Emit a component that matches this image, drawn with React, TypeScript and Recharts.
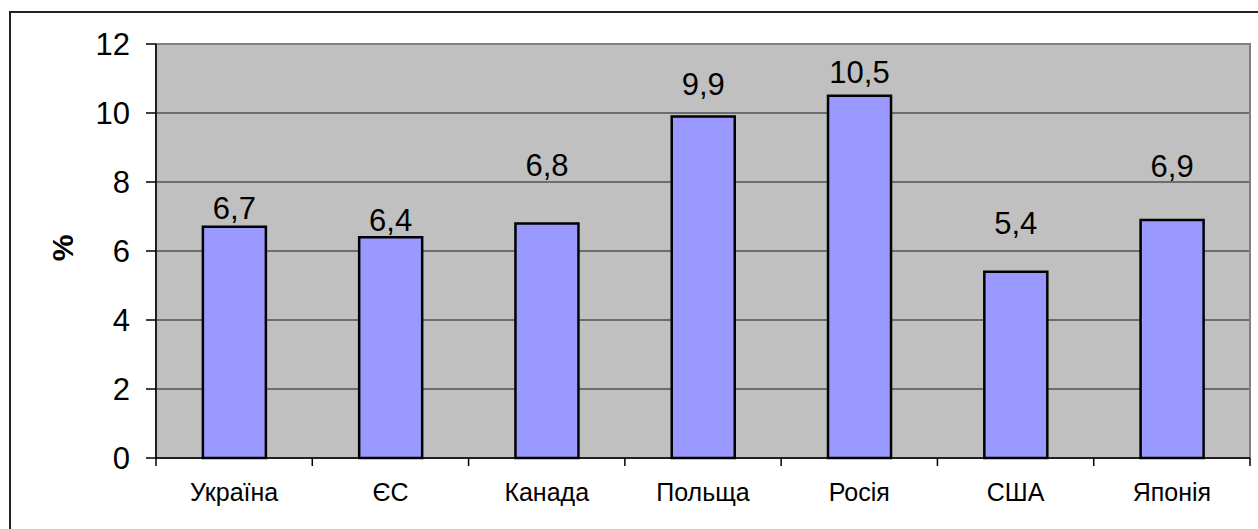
import { Bar, BarChart, CartesianGrid, Label, ReferenceArea, XAxis, YAxis } from "recharts";

const countries = ["Україна", "ЄС", "Канада", "Польща", "Росія", "США", "Японія"];
const rates = [6.7, 6.4, 6.8, 9.9, 10.5, 5.4, 6.9];
const yTicks = [0, 2, 4, 6, 8, 10, 12];

// how far each value label sits above its bar (px, as placed in the original)
const labelRaise = [19, 17, 59, 33, 24, 49, 54];

const data = countries.map((name, i) => ({ name, value: rates[i] }));

const W = 1258;
const H = 529;
const M = { top: 44, right: 8, bottom: 0, left: 0 };
const Y_W = 156;
const X_H = 71;
const BAND = (W - M.left - M.right - Y_W) / countries.length;

const fmt = (v: number) => String(v).replace(".", ",");

function CategoryTick(props: any) {
  const { x, y, payload, index } = props;
  const left = x - BAND / 2;
  const right = x + BAND / 2;
  return (
    <g>
      <line x1={left} x2={left} y1={y} y2={y + 8} stroke="#000" strokeWidth={1.5} />
      {index === countries.length - 1 && (
        <line x1={right} x2={right} y1={y} y2={y + 8} stroke="#000" strokeWidth={1.5} />
      )}
      <text x={x} y={y + 43} textAnchor="middle" fill="#000" fontSize={25}>
        {payload.value}
      </text>
    </g>
  );
}

function ValueLabel(props: any) {
  const { x, y, width, value, index } = props;
  return (
    <text
      x={x + width / 2}
      y={y - labelRaise[index]}
      dy="0.36em"
      textAnchor="middle"
      fill="#000"
      fontSize={31}
    >
      {fmt(value)}
    </text>
  );
}

function App() {
  return (
    <div
      style={{
        position: "absolute",
        left: 0,
        top: 0,
        width: W,
        height: H,
        background: "#fff",
        fontFamily: "'Liberation Sans', Arial, sans-serif",
        overflow: "hidden",
      }}
    >
      <div
        style={{
          position: "absolute",
          left: 9,
          top: 11,
          width: W + 20,
          height: H + 20,
          border: "2px solid #222",
        }}
      />
      <BarChart
        width={W}
        height={H}
        data={data}
        margin={M}
        barCategoryGap="30%"
        style={{ position: "absolute", left: 0, top: 0 }}
      >
        <CartesianGrid vertical={false} stroke="#1a1a1a" fill="#c0c0c0" fillOpacity={1} />
        <ReferenceArea y1={0} y2={12} fill="none" stroke="#808080" strokeWidth={2} ifOverflow="visible" />
        <XAxis
          dataKey="name"
          height={X_H}
          tickLine={false}
          tickSize={0}
          tickMargin={0}
          axisLine={{ stroke: "#000", strokeWidth: 1.5 }}
          tick={<CategoryTick />}
          interval={0}
        />
        <YAxis
          width={Y_W}
          domain={[0, 12]}
          ticks={yTicks}
          interval={0}
          tickSize={10}
          tickMargin={16}
          tickLine={{ stroke: "#000", strokeWidth: 1.5 }}
          axisLine={{ stroke: "#000", strokeWidth: 1.5 }}
          tick={{ fill: "#000", fontSize: 31 }}
        >
          <Label
            content={() => (
              <text
                x={62}
                y={248}
                transform="rotate(-90 62 248)"
                textAnchor="middle"
                dominantBaseline="central"
                fontSize={30}
                fontWeight="bold"
                fill="#000"
              >
                %
              </text>
            )}
          />
        </YAxis>
        <Bar
          dataKey="value"
          fill="#9999ff"
          stroke="#000"
          strokeWidth={2.5}
          isAnimationActive={false}
          label={<ValueLabel />}
        />
      </BarChart>
    </div>
  );
}

export default App;
